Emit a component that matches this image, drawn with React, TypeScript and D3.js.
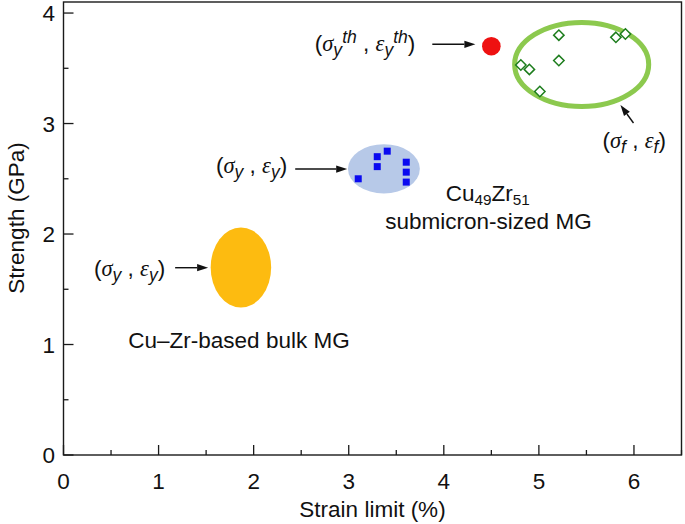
import React, { useEffect } from "react";
import * as d3 from "d3";

// ---------- data (in axis units: strain %, strength GPa) ----------
const xTicks = [0, 1, 2, 3, 4, 5, 6];
const yTicks = [0, 1, 2, 3, 4];
const xMinor = [0.5, 1.5, 2.5, 3.5, 4.5, 5.5, 6.5];
const yMinor = [0.5, 1.5, 2.5, 3.5];

// regions: [cx, cy, rx, ry]
const bulkRegion = [1.866, 1.697, 0.318, 0.362];
const submicronRegion = [3.37, 2.59, 0.378, 0.223];
const fractureRegion = [5.45, 3.535, 0.705, 0.38];

// submicron yield points (blue squares)
const submicronX = [3.1, 3.3, 3.405, 3.3, 3.605, 3.605, 3.605];
const submicronY = [2.5, 2.7, 2.75, 2.61, 2.65, 2.56, 2.47];

// fracture points (green diamonds)
const fractureX = [5.21, 5.81, 5.91, 4.81, 4.9, 5.21, 5.01];
const fractureY = [3.8, 3.78, 3.81, 3.53, 3.49, 3.57, 3.29];

// theoretical point (red dot)
const theoretical = [4.5, 3.7];

// arrows: [x1, y1, x2, y2] (tail -> head)
const arrowBulk = [1.174, 1.695, 1.521, 1.695];
const arrowSub = [2.437, 2.588, 2.984, 2.588];
const arrowTh = [3.879, 3.717, 4.332, 3.717];
const arrowFrac = [5.995, 3.005, 5.858, 3.167];

const SANS = "'Liberation Sans', Arial, Helvetica, sans-serif";
const SERIF = "'Liberation Serif', 'Times New Roman', serif";

const W = 685;
const H = 524;

export default function App() {
  useEffect(() => {
    document.body.style.margin = "0";
  }, []);

  const x = d3.scaleLinear().domain([0, 6.5]).range([63.5, 681.5]);
  const y = d3.scaleLinear().domain([0, 4.1]).range([455, 2]);

  const fs = 22.5;
  const axisColor = "#1a1a1a";

  const ell = (r: number[], fill: string, stroke: string, sw: number) => (
    <ellipse
      cx={x(r[0])}
      cy={y(r[1])}
      rx={x(r[0] + r[2]) - x(r[0])}
      ry={y(r[1] - r[3]) - y(r[1])}
      fill={fill}
      stroke={stroke}
      strokeWidth={sw}
    />
  );

  const arrow = (a: number[], key: string) => {
    const x1 = x(a[0]), y1 = y(a[1]), x2 = x(a[2]), y2 = y(a[3]);
    const ang = Math.atan2(y2 - y1, x2 - x1);
    const L = 11, Wd = 3.6;
    const bx = x2 - L * Math.cos(ang), by = y2 - L * Math.sin(ang);
    const px = -Math.sin(ang) * Wd, py = Math.cos(ang) * Wd;
    const pts = `${x2},${y2} ${bx + px},${by + py} ${bx - px},${by - py}`;
    return (
      <g key={key}>
        <line x1={x1} y1={y1} x2={bx} y2={by} stroke="#111" strokeWidth={1.4} />
        <polygon points={pts} fill="#111" />
      </g>
    );
  };

  // math label like (σ_y , ε_y) with optional superscript
  const mathLabel = (
    xv: number,
    yv: number,
    anchor: "start" | "end",
    sub: string,
    sup?: string
  ) => (
    <text x={x(xv)} y={y(yv)} fontSize={fs} fontFamily={SANS} textAnchor={anchor} fill="#111">
      <tspan>(</tspan>
      <tspan fontFamily={SERIF} fontStyle="italic">σ</tspan>
      <tspan fontStyle="italic" fontSize={fs * 0.78} dy={5}>{sub}</tspan>
      {sup ? (
        <tspan fontStyle="italic" fontSize={fs * 0.78} dy={-13}>{sup}</tspan>
      ) : null}
      <tspan dy={sup ? 8 : -5}>{" , "}</tspan>
      <tspan fontFamily={SERIF} fontStyle="italic">ε</tspan>
      <tspan fontStyle="italic" fontSize={fs * 0.78} dy={5}>{sub}</tspan>
      {sup ? (
        <tspan fontStyle="italic" fontSize={fs * 0.78} dy={-13}>{sup}</tspan>
      ) : null}
      <tspan dy={sup ? 8 : -5}>)</tspan>
    </text>
  );

  const sq = 7;
  const dg = 5.2;

  return (
    <svg width={W} height={H} style={{ display: "block", background: "#fff" }}>
      {/* regions */}
      {ell(bulkRegion, "#fdbb10", "none", 0)}
      {ell(submicronRegion, "#b7c9e8", "none", 0)}
      {ell(fractureRegion, "none", "#8cc94e", 5)}

      {/* blue squares */}
      {submicronX.map((v, i) => (
        <rect
          key={"s" + i}
          x={x(v) - sq / 2}
          y={y(submicronY[i]) - sq / 2}
          width={sq}
          height={sq}
          fill="#0a0af0"
        />
      ))}

      {/* green diamonds */}
      {fractureX.map((v, i) => {
        const cx = x(v), cy = y(fractureY[i]);
        return (
          <polygon
            key={"d" + i}
            points={`${cx},${cy - dg} ${cx + dg},${cy} ${cx},${cy + dg} ${cx - dg},${cy}`}
            fill="white"
            stroke="#1d7d1d"
            strokeWidth={1.5}
          />
        );
      })}

      {/* red dot */}
      <circle cx={x(theoretical[0])} cy={y(theoretical[1])} r={9.3} fill="#ee1111" />

      {/* arrows */}
      {arrow(arrowBulk, "a1")}
      {arrow(arrowSub, "a2")}
      {arrow(arrowTh, "a3")}
      {arrow(arrowFrac, "a4")}

      {/* math labels */}
      {mathLabel(1.07, 1.62, "end", "y")}
      {mathLabel(2.353, 2.555, "end", "y")}
      {mathLabel(3.70, 3.66, "end", "y", "th")}
      {mathLabel(5.668, 2.78, "start", "f")}

      {/* text labels */}
      <text x={x(0.682)} y={y(0.966)} fontSize={fs} fontFamily={SANS} fill="#111">
        Cu–Zr-based bulk MG
      </text>
      <text x={x(4.463)} y={y(2.295)} fontSize={fs} fontFamily={SANS} fill="#111" textAnchor="middle">
        <tspan>Cu</tspan>
        <tspan fontSize={fs * 0.68} dy={3.5}>49</tspan>
        <tspan dy={-3.5}>Zr</tspan>
        <tspan fontSize={fs * 0.68} dy={3.5}>51</tspan>
      </text>
      <text x={x(4.47)} y={y(2.045)} fontSize={fs} fontFamily={SANS} fill="#111" textAnchor="middle">
        submicron-sized MG
      </text>

      {/* frame */}
      <rect
        x={x(0)}
        y={y(4.1)}
        width={x(6.5) - x(0)}
        height={y(0) - y(4.1)}
        fill="none"
        stroke={axisColor}
        strokeWidth={1.4}
      />

      {/* x ticks */}
      {xTicks.map((t) => (
        <g key={"xt" + t}>
          <line x1={x(t)} x2={x(t)} y1={y(0)} y2={y(0) - 10} stroke={axisColor} strokeWidth={1.3} />
          <text x={x(t)} y={489} fontSize={fs} fontFamily={SANS} textAnchor="middle" fill="#111">
            {t}
          </text>
        </g>
      ))}
      {xMinor.map((t) => (
        <line key={"xm" + t} x1={x(t)} x2={x(t)} y1={y(0)} y2={y(0) - 5} stroke={axisColor} strokeWidth={1.3} />
      ))}

      {/* y ticks */}
      {yTicks.map((t) => (
        <g key={"yt" + t}>
          <line x1={x(0)} x2={x(0) + 10} y1={y(t)} y2={y(t)} stroke={axisColor} strokeWidth={1.3} />
          <text x={55} y={y(t)} dy="0.36em" fontSize={fs} fontFamily={SANS} textAnchor="end" fill="#111">
            {t}
          </text>
        </g>
      ))}
      {yMinor.map((t) => (
        <line key={"ym" + t} x1={x(0)} x2={x(0) + 5} y1={y(t)} y2={y(t)} stroke={axisColor} strokeWidth={1.3} />
      ))}

      {/* axis titles */}
      <text x={x(3.25)} y={517} fontSize={fs} fontFamily={SANS} textAnchor="middle" fill="#111">
        Strain limit (%)
      </text>
      <text
        transform={`translate(24,218) rotate(-90)`}
        fontSize={fs}
        fontFamily={SANS}
        textAnchor="middle"
        fill="#111"
      >
        Strength (GPa)
      </text>
    </svg>
  );
}
